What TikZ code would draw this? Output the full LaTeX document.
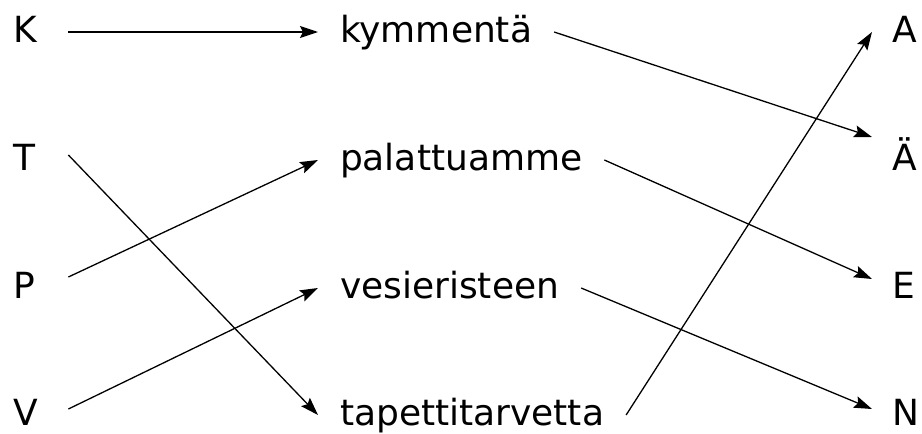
\documentclass[tikz,border=0pt]{standalone}
\usepackage{fontspec}
\setmainfont{DejaVu Sans}
\usetikzlibrary{arrows.meta}

\begin{document}
\begin{tikzpicture}[x=1pt,y=-1pt,
    every node/.style={font=\fontsize{36}{43}\selectfont, inner sep=0pt, anchor=base west},
    letter/.style={text height=26pt, text depth=0pt},
    word/.style={text height=20pt, text depth=0pt, outer xsep=22pt},
    link/.style={line width=1.3pt, -{Stealth[length=18pt,width=12pt,inset=3pt]}}]
        \useasboundingbox (0,0) rectangle (922,434);
        \def\colA{13}; % left edge of the letters
        \def\colB{318}; % left edge of the words
        \def\colC{872}; % left edge of the answer letters

        % Letters on the left
        \foreach \n/\t/\y in {lK/K/42, lT/T/170, lP/P/298, lV/V/425} {
            \node[letter, text width=55pt] (\n) at (\colA,\y) {\t};
        }

        % Words in the middle
        \node[word] (mK) at (\colB,42) {kymmentä};
        \node[word] (mP) at (\colB,170) {palattuamme};
        \node[word] (mV) at (\colB,298) {vesieristeen};
        \node[word] (mT) at (\colB,425) {tapettitarvetta};

        % Letters on the right
        \foreach \n/\t/\y in {rA/A/42, rAe/Ä/170, rE/E/298, rN/N/425} {
            \node[letter, outer xsep=20pt] (\n) at (\colC,\y) {\t};
        }

        % Left to middle
        \draw[link] ([yshift=-3pt]lK.east) -- (mK.west);
        \draw[link] ([yshift=2pt]lT.east) -- (mT.west);
        \draw[link] ([yshift=8pt]lP.east) -- (mP.west);
        \draw[link] ([yshift=3pt]lV.east) -- (mV.west);

        % Middle to right
        \draw[link] (mK.east) -- ([yshift=20pt]rAe.west);
        \draw[link] (mP.east) -- ([yshift=6pt]rE.west);
        \draw[link] (mV.east) -- ([yshift=3pt]rN.west);
        \draw[link] (mT.east) -- ([yshift=-3pt]rA.west);
    \end{tikzpicture}
\end{document}
